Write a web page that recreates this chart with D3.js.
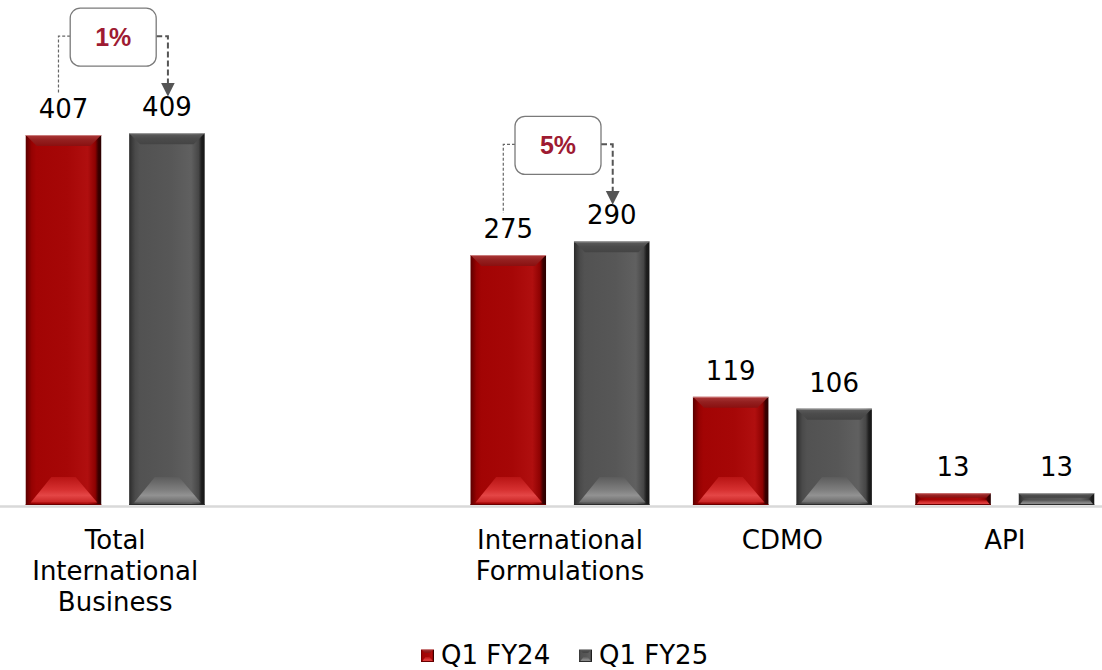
<!DOCTYPE html>
<html>
<head>
<meta charset="utf-8">
<script src="https://cdn.jsdelivr.net/npm/d3@7"></script>
<style>
  html, body { margin: 0; padding: 0; background: #ffffff; }
  svg { display: block; }
</style>
</head>
<body>
<svg id="chart" width="1102" height="670"></svg>
<script>
// Revenue by segment (the second slot is an intentional spacer)
const categories = ["Total International Business", "spacer", "International Formulations", "CDMO", "API"];
const categoryLabels = [["Total", "International", "Business"], [], ["International", "Formulations"], ["CDMO"], ["API"]];
const seriesNames = ["Q1 FY24", "Q1 FY25"];
const q1fy24 = [407, null, 275, 119, 13];
const q1fy25 = [409, null, 290, 106, 13];
// Growth callouts between the two periods
const growthCategories = ["Total International Business", "International Formulations"];
const growthLabels = ["1%", "5%"];

const W = 1102, H = 670;
const baseY = 505;
const svg = d3.select("#chart");
const defs = svg.append("defs");

const x = d3.scaleBand().domain(categories).range([4, 1116]).paddingInner(0).paddingOuter(0);
const x1 = d3.scaleBand().domain(seriesNames).range([0, x.bandwidth()]).paddingInner(0.27).paddingOuter(0.21);
const y = d3.scaleLinear().domain([0, 450]).range([baseY, baseY - 450 * (370 / 407)]);

const palettes = {
  "Q1 FY24": {
    side: [["0%", "#5a0000"], ["4%", "#7a0000"], ["8%", "#960202"], ["14%", "#a20404"], ["55%", "#a60707"], ["82%", "#b00f0f"], ["92%", "#8e0202"], ["96%", "#3c0000"], ["100%", "#2a0000"]],
    top: [["0%", "#a83434"], ["40%", "#942020"], ["100%", "#8a1010"]],
    topLine: "#c97a7a",
    bottom: [["0%", "#b81414"], ["50%", "#d63030"], ["72%", "#e44646"], ["100%", "#c82424"]],
    edge: "#6a0000"
  },
  "Q1 FY25": {
    side: [["0%", "#2a2a2a"], ["4%", "#3c3c3c"], ["8%", "#4a4a4a"], ["14%", "#525252"], ["55%", "#575757"], ["82%", "#606060"], ["92%", "#464646"], ["96%", "#1e1e1e"], ["100%", "#161616"]],
    top: [["0%", "#5a5a5a"], ["40%", "#4c4c4c"], ["100%", "#444"]],
    topLine: "#a0a0a0",
    bottom: [["0%", "#5c5c5c"], ["50%", "#7e7e7e"], ["72%", "#929292"], ["100%", "#6c6c6c"]],
    edge: "#2c2c2c"
  }
};

seriesNames.forEach((s, i) => {
  const p = palettes[s];
  const gs = defs.append("linearGradient").attr("id", "side" + i).attr("x1", "0").attr("x2", "1").attr("y1", "0").attr("y2", "0");
  p.side.forEach(([o, c]) => gs.append("stop").attr("offset", o).attr("stop-color", c));
  const gt = defs.append("linearGradient").attr("id", "top" + i).attr("x1", "0").attr("x2", "0").attr("y1", "0").attr("y2", "1");
  p.top.forEach(([o, c]) => gt.append("stop").attr("offset", o).attr("stop-color", c));
  const gb = defs.append("linearGradient").attr("id", "bot" + i).attr("x1", "0").attr("x2", "0").attr("y1", "0").attr("y2", "1");
  p.bottom.forEach(([o, c]) => gb.append("stop").attr("offset", o).attr("stop-color", c));
});

const pts = arr => arr.map(d => d.join(",")).join(" ");

// Draws one bevelled bar
function bevelBar(g, x0, top, w, h, si, topBevel, bottomBevel, side) {
  const p = palettes[seriesNames[si]];
  const bottom = top + h;
  const bt = Math.min(topBevel, h * 0.3);
  const bb = Math.min(bottomBevel, h * 0.4);
  const sd = Math.min(side, h * 0.1);
  g.append("rect").attr("x", x0).attr("y", top).attr("width", w).attr("height", h)
    .attr("fill", `url(#side${si})`);
  g.append("polygon")
    .attr("points", pts([[x0 + 1, top + 1], [x0 + w - 1, top + 1], [x0 + w - 1 - bt, top + 1 + bt], [x0 + 1 + bt, top + 1 + bt]]))
    .attr("fill", `url(#top${si})`);
  const inset = Math.min(w * 0.34, bb * 0.93);
  g.append("polygon")
    .attr("points", pts([[x0 + sd, bottom - sd * 0.5], [x0 + w - sd * 0.8, bottom - sd * 0.5], [x0 + w - inset, bottom - bb], [x0 + inset, bottom - bb]]))
    .attr("fill", `url(#bot${si})`);
  g.append("line").attr("x1", x0).attr("x2", x0 + w).attr("y1", top + 0.5).attr("y2", top + 0.5)
    .attr("stroke", p.topLine).attr("stroke-width", 1);
  g.append("line").attr("x1", x0).attr("x2", x0 + w).attr("y1", bottom - 0.5).attr("y2", bottom - 0.5)
    .attr("stroke", p.edge).attr("stroke-width", 1);
}

// Baseline
svg.append("line").attr("x1", 0).attr("x2", W).attr("y1", baseY + 1.5).attr("y2", baseY + 1.5)
  .attr("stroke", "#d9d9d9").attr("stroke-width", 2.5);

const series = [q1fy24, q1fy25];
const barsG = svg.append("g");
const labelG = svg.append("g").attr("font-family", "DejaVu Sans, sans-serif").attr("font-size", 26).attr("fill", "#000");

categories.forEach((c, ci) => {
  series.forEach((vals, si) => {
    const v = vals[ci];
    if (v == null) return;
    const bx = x(c) + x1(seriesNames[si]);
    const bw = x1.bandwidth();
    const top = y(v);
    bevelBar(barsG, bx, top, bw, baseY - top, si, 10, 28, 5);
    labelG.append("text").attr("x", bx + bw / 2).attr("y", top - 17)
      .attr("text-anchor", "middle").text(v);
  });
  // Category label
  const lines = categoryLabels[ci];
  const t = labelG.append("text").attr("text-anchor", "middle").attr("x", x(c) + x.bandwidth() / 2);
  lines.forEach((ln, li) => {
    t.append("tspan").attr("x", x(c) + x.bandwidth() / 2).attr("y", 549 + li * 31).text(ln);
  });
});

// Growth callouts
defs.append("marker").attr("id", "arrow").attr("viewBox", "0 0 10 10").attr("refX", 9).attr("refY", 5)
  .attr("markerWidth", 14).attr("markerHeight", 15).attr("markerUnits", "userSpaceOnUse").attr("orient", "auto")
  .append("path").attr("d", "M0,0 L10,5 L0,10 Z").attr("fill", "#555");

const calloutG = svg.append("g");
growthCategories.forEach((c, i) => {
  const ci = categories.indexOf(c);
  const v0 = q1fy24[ci], v1 = q1fy25[ci];
  const bw = x1.bandwidth();
  const cx0 = x(c) + x1(seriesNames[0]) + bw / 2;
  const cx1 = x(c) + x1(seriesNames[1]) + bw / 2;
  const mid = x(c) + x.bandwidth() / 2 - 2;
  const boxW = 86, boxH = 58;
  const boxBottom = y(Math.max(v0, v1)) - 67;
  const boxTop = boxBottom - boxH;
  const midY = boxTop + boxH / 2 - 1;
  // left connector (from first period)
  calloutG.append("path")
    .attr("d", `M${mid - boxW / 2},${midY} H${cx0 - 5} V${y(v0) - 42}`)
    .attr("fill", "none").attr("stroke", "#666").attr("stroke-width", 1.2).attr("stroke-dasharray", "3,2");
  // right connector with arrow to second period
  calloutG.append("path")
    .attr("d", `M${mid + boxW / 2},${midY} H${cx1 + 1} V${y(v1) - 38}`)
    .attr("fill", "none").attr("stroke", "#555").attr("stroke-width", 2).attr("stroke-dasharray", "6,3")
    .attr("marker-end", "url(#arrow)");
  calloutG.append("rect").attr("x", mid - boxW / 2).attr("y", boxTop).attr("width", boxW).attr("height", boxH)
    .attr("rx", 10).attr("fill", "#fff").attr("stroke", "#7a7a7a").attr("stroke-width", 1.3);
  calloutG.append("text").attr("x", mid).attr("y", midY + 10)
    .attr("text-anchor", "middle").attr("font-family", "Liberation Sans, Arial, sans-serif")
    .attr("font-weight", "bold").attr("font-size", 25).attr("fill", "#9e1b32")
    .text(growthLabels[i]);
});

// Legend
const legendX = [421, 579];
const legendG = svg.append("g");
seriesNames.forEach((s, si) => {
  bevelBar(legendG, legendX[si], 649, 13, 13, si, 3, 5, 2);
  legendG.append("text").attr("x", legendX[si] + 20).attr("y", 664)
    .attr("font-family", "DejaVu Sans, sans-serif").attr("font-size", 26).attr("fill", "#000").text(s);
});
</script>
</body>
</html>
